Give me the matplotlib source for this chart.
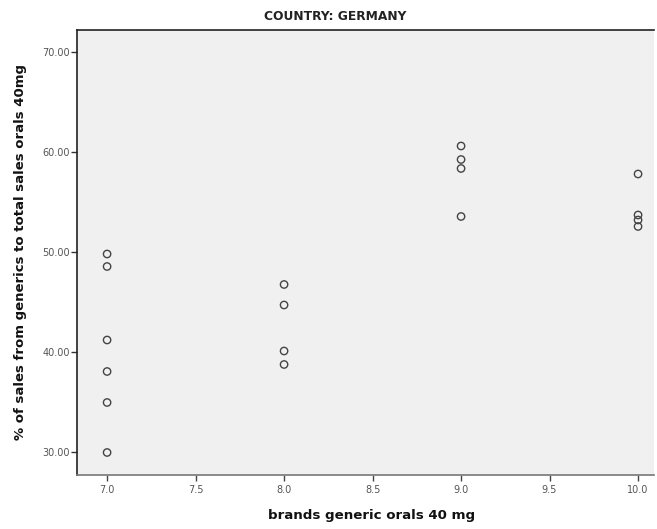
import matplotlib
matplotlib.use("Agg")
import matplotlib.pyplot as plt

# brands of generic orals (40 mg) and share of generic sales, Germany
brands = [7, 7, 7, 7, 7, 7,
          8, 8, 8, 8,
          9, 9, 9, 9,
          10, 10, 10, 10]
pct_generic = [49.85, 48.6, 41.25, 38.1, 35.0, 30.0,
               46.8, 44.75, 40.15, 38.8,
               60.65, 59.3, 58.4, 53.6,
               57.85, 53.75, 53.25, 52.6]

x_ticks = [7.0, 7.5, 8.0, 8.5, 9.0, 9.5, 10.0]
y_ticks = [30.0, 40.0, 50.0, 60.0, 70.0]

fig = plt.figure(figsize=(6.57, 5.29), dpi=100)
fig.patch.set_facecolor("white")
ax = fig.add_axes([0.1172, 0.1021, 0.8782, 0.8412])
ax.set_facecolor("#f0f0f0")

ax.scatter(brands, pct_generic, s=28, facecolors="none",
           edgecolors="#444444", linewidths=1.0, zorder=3)

ax.set_xlim(6.83, 10.09)
ax.set_ylim(27.75, 72.25)
ax.set_xticks(x_ticks)
ax.set_xticklabels([f"{v:.1f}" for v in x_ticks])
ax.set_yticks(y_ticks)
ax.set_yticklabels([f"{v:.2f}" for v in y_ticks])

ax.tick_params(axis="both", labelsize=7, labelcolor="#555555",
               length=4.5, width=1.0, direction="out")
ax.tick_params(axis="y", colors="#333333", labelcolor="#555555", pad=0.5)
ax.tick_params(axis="x", colors="#444444", labelcolor="#555555", pad=3)

ax.spines["left"].set_color("#222222")
ax.spines["left"].set_linewidth(1.2)
ax.spines["top"].set_color("#222222")
ax.spines["top"].set_linewidth(1.2)
ax.spines["bottom"].set_color("#777777")
ax.spines["bottom"].set_linewidth(1.2)
ax.spines["right"].set_visible(False)

fig.text(0.51, 0.968, "COUNTRY: GERMANY", fontsize=8.8, fontweight="bold",
         color="#222222", ha="center", va="center")
ax.set_xlabel("brands generic orals 40 mg", fontsize=9.6, fontweight="bold",
              color="#111111")
ax.xaxis.set_label_coords(0.51, -0.077)
ax.set_ylabel("% of sales from generics to total sales orals 40mg",
              fontsize=9.5, fontweight="bold", color="#111111", labelpad=11)

fig.savefig("out.png", dpi=100)
